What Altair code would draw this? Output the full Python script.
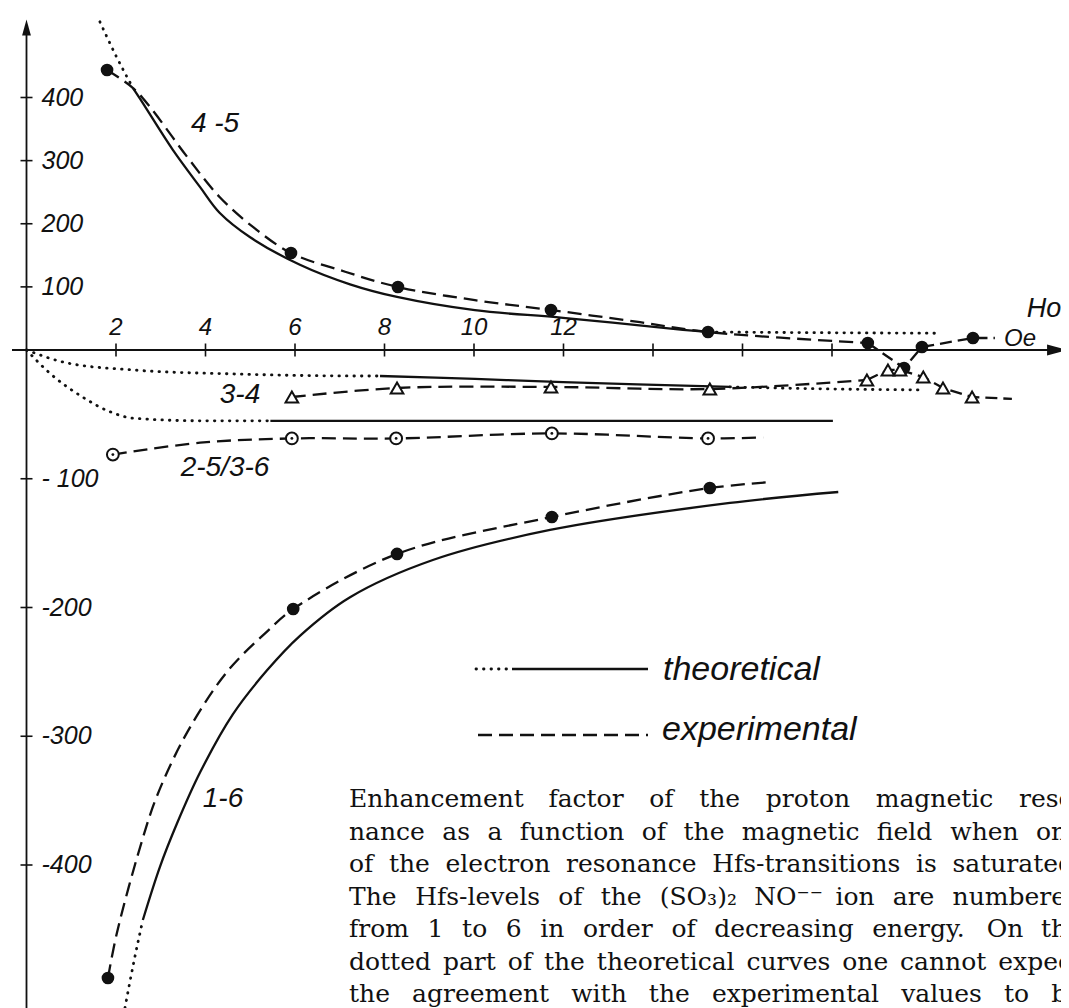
import altair as alt
import pandas as pd

INK = "#111111"

# ---------------- data ----------------
# curve 4-5 (theory dotted head / solid / dotted tail, experiment)
t45_dot_head_x = [1.64, 2.0, 2.38]
t45_dot_head_y = [520, 466, 415]
t45_solid_x = [2.38, 2.60, 3.27, 3.88, 4.32, 4.99, 6.11, 7.23, 8.28, 10.02, 11.99, 14.67, 15.25]
t45_solid_y = [415, 391, 317, 258, 217, 179, 135, 104, 84, 63, 51, 32, 28.5]
t45_dot_tail_x = [15.25, 17.5, 20.4]
t45_dot_tail_y = [28.5, 27.5, 26.5]
e45_path_x = [1.80, 2.38, 2.76, 3.59, 4.32, 5.06, 5.91, 7.12, 8.30, 10.02, 11.72, 13.71, 15.23, 18.80]
e45_path_y = [443.6, 415, 385, 306, 242, 195, 153.7, 124, 99.8, 79, 63.4, 44, 28.5, 11.1]
e45_zig_x = [18.80, 19.61, 20.01, 21.15, 21.64]
e45_zig_y = [11.1, -14, 4.8, 19, 19]
e45_pts_x = [1.80, 5.91, 8.30, 11.72, 15.23, 18.80, 19.61, 20.01, 21.15]
e45_pts_y = [443.6, 153.7, 99.8, 63.4, 28.5, 11.1, -14, 4.8, 19]

# curve 3-4
t34_dot_head_x = [0, 0.9, 2.38, 4.62, 7.6, 7.9]
t34_dot_head_y = [0, -10, -15.5, -18.6, -20.2, -20.2]
t34_solid_x = [7.9, 10.02, 11.99, 15.72]
t34_solid_y = [-20.2, -22.5, -24.9, -28.7]
t34_dot_tail_x = [15.72, 18.0, 20.04]
t34_dot_tail_y = [-28.7, -30.3, -31]
e34_path_x = [5.93, 8.28, 11.72, 15.27, 18.78]
e34_path_y = [-36.5, -29.5, -28.7, -30.3, -23.3]
e34_zig_x = [18.78, 19.25, 19.52, 20.04, 20.48, 21.13, 22.02]
e34_zig_y = [-23.3, -15.5, -15.5, -21, -29.5, -36.5, -38]
e34_pts_x = [5.93, 8.28, 11.72, 15.27, 18.78, 19.25, 19.52, 20.04, 20.48, 21.13]
e34_pts_y = [-36.5, -29.5, -28.7, -30.3, -23.3, -15.5, -15.5, -21, -29.5, -36.5]

# curve 2-5/3-6
t25_dot_head_x = [0, 0.52, 1.25, 1.87, 2.39, 3.9, 5.45]
t25_dot_head_y = [0, -18, -36.5, -48, -53, -55, -55]
t25_solid_x = [5.45, 18.02]
t25_solid_y = [-55, -55]
e25_path_x = [1.93, 3.88, 5.93, 8.26, 11.74, 15.23, 16.46]
e25_path_y = [-81.2, -72, -68.7, -68.7, -64.8, -68.7, -67.9]
e25_pts_x = [1.93, 5.93, 8.26, 11.74, 15.23]
e25_pts_y = [-81.2, -68.7, -68.7, -64.8, -68.7]

# curve 1-6
t16_dot_head_x = [2.20, 2.40, 2.60]
t16_dot_head_y = [-511, -475, -442.7]
t16_solid_x = [2.60, 2.98, 3.36, 3.88, 4.61, 5.37, 6.11, 7.23, 9.08, 11.70, 15.72, 18.14]
t16_solid_y = [-442.7, -401.6, -368, -328, -283, -249, -222, -192, -163.1, -139.8, -118.8, -110.3]
e16_path_x = [1.82, 2.02, 2.54, 2.92, 3.59, 4.48, 5.38, 5.96, 8.28, 11.74, 15.27, 16.66]
e16_path_y = [-487.8, -452.8, -386, -346, -297, -250, -218.5, -201.2, -158.4, -129.7, -107.2, -102.5]
e16_pts_x = [1.82, 5.96, 8.28, 11.74, 15.27]
e16_pts_y = [-487.8, -201.2, -158.4, -129.7, -107.2]

# axes
x_tick_values = [2, 4, 6, 8, 10, 12, 14, 16, 18]
x_tick_labels = ["2", "4", "6", "8", "10", "12", "", "", ""]
y_tick_values = [400, 300, 200, 100, -100, -200, -300, -400]
y_tick_labels = ["400", "300", "200", "100", "- 100", "-200", "-300", "-400"]

curve_names = ["4 -5", "3-4", "2-5/3-6", "1-6"]

caption_lines = [
    ["Enhancement", "factor", "of", "the", "proton", "magnetic", "reso-"],
    ["nance", "as", "a", "function", "of", "the", "magnetic", "field", "when", "one"],
    ["of", "the", "electron", "resonance", "Hfs-transitions", "is", "saturated."],
    ["The", "Hfs-levels", "of", "the", "(SO₃)₂", "NO⁻⁻", "ion", "are", "numbered"],
    ["from", "1", "to", "6", "in", "order", "of", "decreasing", "energy.", "On", "the"],
    ["dotted", "part", "of", "the", "theoretical", "curves", "one", "cannot", "expect"],
    ["the", "agreement", "with", "the", "experimental", "values", "to", "be"],
]

# ---------------- layout ----------------
W, H = 1053, 1000
X0PX, XPX = 18.5, 44.75           # pixel of x=0 and pixels per unit
Y0PX, YPOS, YNEG = 342, 0.63125, 1.2875

xs = alt.Scale(domain=[-X0PX / XPX, (W - X0PX) / XPX], nice=False, zero=False)
ys = alt.Scale(domain=[-(H - Y0PX) / YNEG, 0, Y0PX / YPOS], range=[H, Y0PX, 0],
               nice=False, zero=False)


def px2x(px):
    return (px - X0PX) / XPX


def py2y(py):
    return (Y0PX - py) / YPOS if py <= Y0PX else -(py - Y0PX) / YNEG


def X(f="x"):
    return alt.X(f"{f}:Q", scale=xs, axis=None)


def Y(f="y"):
    return alt.Y(f"{f}:Q", scale=ys, axis=None)


def segs(*items):
    frames = []
    for name, xv, yv in items:
        frames.append(pd.DataFrame({"seg": name, "x": xv, "y": yv, "o": list(range(len(xv)))}))
    return pd.concat(frames, ignore_index=True)


def pts(xv, yv):
    return pd.DataFrame({"x": xv, "y": yv})


th_solid = segs(("45", t45_solid_x, t45_solid_y), ("34", t34_solid_x, t34_solid_y),
                ("25", t25_solid_x, t25_solid_y), ("16", t16_solid_x, t16_solid_y))
th_dot = segs(("45a", t45_dot_head_x, t45_dot_head_y), ("45b", t45_dot_tail_x, t45_dot_tail_y),
              ("34a", t34_dot_head_x, t34_dot_head_y), ("34b", t34_dot_tail_x, t34_dot_tail_y),
              ("25a", t25_dot_head_x, t25_dot_head_y), ("16a", t16_dot_head_x, t16_dot_head_y))
ex_smooth = segs(("45", e45_path_x, e45_path_y), ("34", e34_path_x, e34_path_y),
                 ("25", e25_path_x, e25_path_y), ("16", e16_path_x, e16_path_y))
ex_zig = segs(("45", e45_zig_x, e45_zig_y), ("34", e34_zig_x, e34_zig_y))

layers = []

# axes lines
layers.append(alt.Chart(pd.DataFrame({"x": [0], "y": [-(H - Y0PX) / YNEG], "y2": [505]}))
              .mark_rule(color=INK, strokeWidth=1.8)
              .encode(x=X(), y=Y(), y2="y2:Q"))
layers.append(alt.Chart(pd.DataFrame({"x": [px2x(4)], "x2": [22.9], "y": [0]}))
              .mark_rule(color=INK, strokeWidth=1.8)
              .encode(x=X(), x2="x2:Q", y=Y()))
# arrow heads
layers.append(alt.Chart(pd.DataFrame({"x": [23.03], "y": [0]}))
              .mark_point(shape="M-1,-0.55L1,0L-1,0.55Z", size=400, filled=True, color=INK, opacity=1)
              .encode(x=X(), y=Y()))
layers.append(alt.Chart(pd.DataFrame({"x": [0], "y": [py2y(19.5)]}))
              .mark_point(shape="M-0.55,1L0,-1L0.55,1Z", size=256, filled=True, color=INK, opacity=1)
              .encode(x=X(), y=Y()))
# ticks
layers.append(alt.Chart(pd.DataFrame({"x": x_tick_values, "y": 0}))
              .mark_tick(orient="vertical", size=13, thickness=1.6, color=INK, opacity=1)
              .encode(x=X(), y=Y()))
layers.append(alt.Chart(pd.DataFrame({"x": 0, "y": y_tick_values}))
              .mark_tick(orient="horizontal", size=12, thickness=1.6, color=INK, opacity=1)
              .encode(x=X(), y=Y()))
# tick labels
layers.append(alt.Chart(pd.DataFrame({"x": x_tick_values, "y": 0, "t": x_tick_labels}))
              .mark_text(font="Liberation Sans", fontStyle="italic", fontSize=24, color=INK,
                         baseline="middle", align="center", dy=-22)
              .encode(x=X(), y=Y(), text="t:N"))
layers.append(alt.Chart(pd.DataFrame({"x": 0, "y": y_tick_values, "t": y_tick_labels}))
              .mark_text(font="Liberation Sans", fontStyle="italic", fontSize=25, color=INK,
                         baseline="middle", align="left", dx=15)
              .encode(x=X(), y=Y(), text="t:N"))

# curves
layers.append(alt.Chart(th_solid).mark_line(color=INK, strokeWidth=2.3, interpolate="catmull-rom")
              .encode(x=X(), y=Y(), detail="seg:N", order="o:Q"))
layers.append(alt.Chart(th_dot).mark_line(color=INK, strokeWidth=2.8, strokeDash=[0.5, 7],
                                          strokeCap="round", interpolate="monotone")
              .encode(x=X(), y=Y(), detail="seg:N", order="o:Q"))
layers.append(alt.Chart(ex_smooth).mark_line(color=INK, strokeWidth=2.3, strokeDash=[14, 7],
                                             interpolate="catmull-rom")
              .encode(x=X(), y=Y(), detail="seg:N", order="o:Q"))
layers.append(alt.Chart(ex_zig).mark_line(color=INK, strokeWidth=2.3, strokeDash=[12, 6])
              .encode(x=X(), y=Y(), detail="seg:N", order="o:Q"))

# markers
dots = pd.concat([pts(e45_pts_x, e45_pts_y), pts(e16_pts_x, e16_pts_y)], ignore_index=True)
layers.append(alt.Chart(dots).mark_point(shape="circle", size=160, filled=True, color=INK, opacity=1)
              .encode(x=X(), y=Y()))
layers.append(alt.Chart(pts(e34_pts_x, e34_pts_y))
              .mark_point(shape="triangle-up", size=160, filled=True, fill="white", stroke=INK,
                          strokeWidth=2, opacity=1)
              .encode(x=X(), y=Y()))
layers.append(alt.Chart(pts(e25_pts_x, e25_pts_y))
              .mark_point(shape="circle", size=140, filled=True, fill="white", stroke=INK,
                          strokeWidth=2, opacity=1)
              .encode(x=X(), y=Y()))
layers.append(alt.Chart(pts(e25_pts_x, e25_pts_y))
              .mark_point(shape="circle", size=8, filled=True, color=INK, opacity=1)
              .encode(x=X(), y=Y()))

# curve labels and axis unit
lab = pd.DataFrame({"x": [px2x(207), px2x(232), px2x(217), px2x(215)],
                    "y": [py2y(116), py2y(387), py2y(460), py2y(791)],
                    "t": curve_names})
layers.append(alt.Chart(lab).mark_text(font="Liberation Sans", fontStyle="italic", fontSize=28,
                                       color=INK, baseline="middle", align="center")
              .encode(x=X(), y=Y(), text="t:N"))
unit = pd.DataFrame({"x": [px2x(1036), px2x(1012)], "y": [py2y(301), py2y(331)],
                     "t": ["Ho", "Oe"]})
layers.append(alt.Chart(unit.iloc[[0]]).mark_text(font="Liberation Sans", fontStyle="italic",
                                                  fontSize=27, color=INK, baseline="middle", align="center")
              .encode(x=X(), y=Y(), text="t:N"))
layers.append(alt.Chart(unit.iloc[[1]]).mark_text(font="Liberation Sans", fontStyle="italic",
                                                  fontSize=24, color=INK, baseline="middle", align="center")
              .encode(x=X(), y=Y(), text="t:N"))

# legend
one = pd.DataFrame({"a": [0]})
layers.append(alt.Chart(one).mark_rule(color=INK, strokeWidth=2.8, strokeDash=[0.5, 7], strokeCap="round")
              .encode(x=alt.value(468), x2=alt.value(500), y=alt.value(661)))
layers.append(alt.Chart(one).mark_rule(color=INK, strokeWidth=2.4)
              .encode(x=alt.value(504), x2=alt.value(640), y=alt.value(661)))
layers.append(alt.Chart(one).mark_rule(color=INK, strokeWidth=2.4, strokeDash=[14, 7])
              .encode(x=alt.value(470), x2=alt.value(640), y=alt.value(727)))
layers.append(alt.Chart(pd.DataFrame({"t": ["theoretical"]}))
              .mark_text(font="Liberation Sans", fontStyle="italic", fontSize=34, color=INK,
                         align="left", baseline="alphabetic")
              .encode(x=alt.value(655), y=alt.value(672), text="t:N"))
layers.append(alt.Chart(pd.DataFrame({"t": ["experimental"]}))
              .mark_text(font="Liberation Sans", fontStyle="italic", fontSize=34, color=INK,
                         align="left", baseline="alphabetic")
              .encode(x=alt.value(654), y=alt.value(732), text="t:N"))

# caption, justified word by word
CW = {**{c: w for c, w in zip("abcdefghijklmnopqrstuvwxyz",
                             [.596, .640, .560, .640, .592, .370, .640, .644, .320, .310, .606, .320, .948,
                              .644, .602, .640, .640, .478, .513, .402, .644, .565, .856, .564, .565, .527])},
      "E": .683, "H": .872, "N": .838, "O": .787, "S": .685, "T": .685,
      "-": .338, ".": .318, "(": .390, ")": .390, "₃": .40, "₂": .40, "⁻": .45}
CAP_SIZE = 25
COL_L, COL_R = 341, 1074
baselines = [799, 832, 864, 897, 929, 962, 994]
rows = []
for words, base in zip(caption_lines, baselines):
    widths = [sum(CW.get(c, .636) for c in w) * CAP_SIZE for w in words]
    gap = (COL_R - COL_L - sum(widths)) / (len(words) - 1)
    xpos = COL_L
    for w, wd in zip(words, widths):
        rows.append({"x": px2x(xpos), "y": py2y(base), "t": w})
        xpos += wd + gap
cap = pd.DataFrame(rows)
layers.append(alt.Chart(cap).mark_text(font="DejaVu Serif", fontSize=CAP_SIZE, color=INK,
                                       align="left", baseline="alphabetic")
              .encode(x=X(), y=Y(), text="t:N"))

chart = alt.layer(*layers).properties(
    width=W, height=H, padding=0, background="white",
    autosize=alt.AutoSizeParams(type="none"),
).configure_view(stroke=None)

chart.save("out.html", embed_options={"renderer": "svg", "actions": False})
